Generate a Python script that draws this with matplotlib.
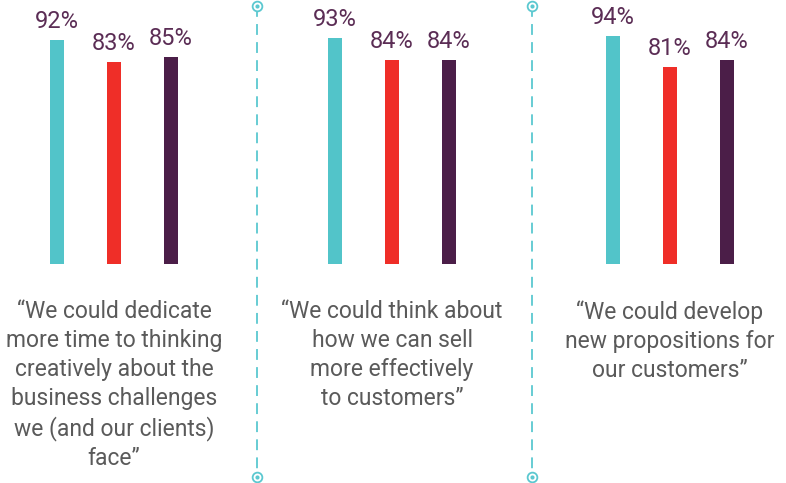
import matplotlib
matplotlib.use("Agg")
import matplotlib.pyplot as plt
from matplotlib.lines import Line2D

# ---- data ----
statements = [
    "\u201cWe could dedicate\nmore time to thinking\ncreatively about the\nbusiness challenges\nwe (and our clients)\nface\u201d",
    "\u201cWe could think about\nhow we can sell\nmore effectively\nto customers\u201d",
    "\u201cWe could develop\nnew propositions for\nour customers\u201d",
]
series_a = [92, 93, 94]
series_b = [83, 84, 81]
series_c = [85, 84, 84]

colors = ["#52c4c9", "#ef2e28", "#4b1e48"]
label_color = "#5b2d55"
text_color = "#5a5a5a"
font = ["Roboto", "DejaVu Sans"]

W, H = 786, 483
fig = plt.figure(figsize=(W / 100, H / 100), dpi=100)
# axes: x in pixel units, y in percent (0 at y=264px, 100 at y=21px)
bottom_px, top_px = 264, 21
ax = fig.add_axes([0, 1 - bottom_px / H, 1, (bottom_px - top_px) / H])
ax.set_xlim(0, W)
ax.set_ylim(0, 100)
ax.axis("off")

group_center0 = 114
group_step = 278
offsets = [-57, 0, 57]
bar_w = 14

all_series = [series_a, series_b, series_c]
for gi in range(len(statements)):
    gc = group_center0 + group_step * gi
    for si, ser in enumerate(all_series):
        x = gc + offsets[si]
        v = ser[gi]
        ax.bar(x, v, width=bar_w, color=colors[si], linewidth=0)
        ax.annotate(f"{v}%", (x, v), xytext=(0, 12), textcoords="offset pixels",
                    ha="center", va="baseline", fontsize=17, color=label_color,
                    family=font)
    # statement text
    fig.text(gc / W, 1 - 300 / H, statements[gi], ha="center", va="top",
             fontsize=16.5, color=text_color, family=font, linespacing=1.33,
             multialignment="center")

# dashed separators with ring markers
sep_color = "#5bc8d0"
for xp in [257, 532]:
    xf = xp / W
    fig.add_artist(Line2D([xf, xf], [1 - 6 / H, 1 - 477 / H], transform=fig.transFigure,
                          color=sep_color, lw=1.3, dashes=(6, 4)))
    for yp in [6, 477]:
        yf = 1 - yp / H
        fig.add_artist(Line2D([xf], [yf], transform=fig.transFigure, marker="o",
                              markersize=7, markerfacecolor="white",
                              markeredgecolor=sep_color, markeredgewidth=1.3, lw=0))
        fig.add_artist(Line2D([xf], [yf], transform=fig.transFigure, marker="o",
                              markersize=3, markerfacecolor=sep_color,
                              markeredgewidth=0, lw=0))

fig.savefig("out.png", dpi=100, facecolor="white")
